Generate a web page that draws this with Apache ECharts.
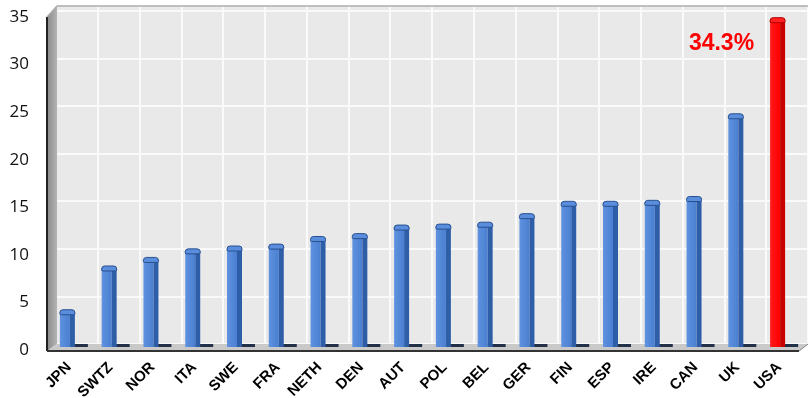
<!DOCTYPE html>
<html>
<head>
<meta charset="utf-8">
<script src="https://cdn.jsdelivr.net/npm/echarts@6/dist/echarts.min.js"></script>
<style>
  html, body { margin: 0; padding: 0; background: #ffffff; }
  #chart { width: 808px; height: 398px; }
</style>
</head>
<body>
<div id="chart"></div>
<script>
// Country codes along the bottom axis
const countries = ['JPN', 'SWTZ', 'NOR', 'ITA', 'SWE', 'FRA', 'NETH', 'DEN', 'AUT',
                   'POL', 'BEL', 'GER', 'FIN', 'ESP', 'IRE', 'CAN', 'UK', 'USA'];
// Percentage for each country
const rates = [3.6, 8.2, 9.1, 10.0, 10.3, 10.5, 11.3, 11.6, 12.5,
               12.6, 12.8, 13.7, 15.0, 15.0, 15.1, 15.5, 24.2, 34.3];
// Value axis ticks
const yTicks = [0, 5, 10, 15, 20, 25, 30, 35];
// Country drawn in red with its value written beside it
const highlighted = 'USA';

const yMin = yTicks[0];
const yMax = yTicks[yTicks.length - 1];
const yStep = yTicks[1] - yTicks[0];

const chart = echarts.init(document.getElementById('chart'), null, { renderer: 'canvas' });

function hGrad(c0, c1) {
  return new echarts.graphic.LinearGradient(0, 0, 1, 0, [
    { offset: 0, color: c0 }, { offset: 1, color: c1 }
  ]);
}

// Pseudo-3D column: front face, darker side, rounded cap and a floor shadow
function renderColumn(params, api) {
  const idx = api.value(0);
  const val = api.value(1);
  const topPt = api.coord([idx, val]);
  const basePt = api.coord([idx, 0]);
  const depth = 4;                 // columns stand a little behind the front edge
  const cx = topPt[0];
  const w = 15, side = 5;
  const x0 = cx - 9;
  const yT = topPt[1] - depth;
  const yB = basePt[1] - depth + 1;
  const hot = countries[idx] === highlighted;

  const frontFill = hot ? hGrad('#ff1a1a', '#ff0000') : hGrad('#5f93e0', '#4a7ed0');
  const sideFill = hot ? '#c80000' : '#2f5ea9';
  const capFill = hot ? '#ff2020' : '#5a8ddc';
  const capStroke = hot ? '#b00000' : '#28508f';

  const children = [
    { type: 'rect', shape: { x: x0 + w - 1, y: yB - 3, width: 14, height: 3 },
      style: { fill: '#223048' } },
    { type: 'rect', shape: { x: x0, y: yT, width: w - side, height: yB - yT },
      style: { fill: frontFill } },
    { type: 'rect', shape: { x: x0 + w - side, y: yT, width: side, height: yB - yT },
      style: { fill: sideFill } },
    { type: 'rect', shape: { x: x0, y: yT - 2, width: w, height: 5, r: [3, 3, 1, 1] },
      style: { fill: capFill, stroke: capStroke, lineWidth: 1 } }
  ];

  if (hot) {
    children.push({
      type: 'text',
      style: {
        x: x0 - 16, y: yT + 24,
        text: val.toFixed(1) + '%',
        fill: '#ff0000',
        font: 'bold 23px "Liberation Sans", Arial, sans-serif',
        align: 'right', verticalAlign: 'middle'
      }
    });
  }
  return { type: 'group', children: children };
}

const option = {
  backgroundColor: '#ffffff',
  animation: false,
  grid: [
    // front plane: scales for the columns and axis labels
    { left: 48, right: 8, top: 17, bottom: 48, outerBoundsMode: 'none', containLabel: false },
    // back wall, shifted up and right for depth
    { left: 56, right: 0, top: 6, bottom: 54, show: true, outerBoundsMode: 'none',
      backgroundColor: '#e9e9e9', borderWidth: 0 }
  ],
  xAxis: [
    {
      type: 'category', gridIndex: 0, data: countries, boundaryGap: true,
      axisLine: { show: false },
      axisTick: { show: true, inside: true, length: 5, interval: 0,
                  lineStyle: { color: '#333', width: 1 } },
      axisLabel: {
        interval: 0, rotate: 45, margin: 15,
        color: '#000', fontSize: 15, fontWeight: 'bold',
        fontFamily: '"Liberation Sans", Arial, sans-serif'
      },
      splitLine: { show: false }
    },
    {
      type: 'category', gridIndex: 1, data: countries, boundaryGap: true,
      axisLine: { show: false }, axisTick: { show: false }, axisLabel: { show: false },
      splitLine: { show: true, interval: 0, lineStyle: { color: '#fafafa', width: 2 } }
    }
  ],
  yAxis: [
    {
      type: 'value', gridIndex: 0, min: yMin, max: yMax, interval: yStep,
      axisLine: { show: false }, axisTick: { show: false },
      axisLabel: { margin: 19, color: '#111', fontSize: 17,
                   fontFamily: '"Open Sans", "Noto Sans", sans-serif' },
      splitLine: { show: false }
    },
    {
      type: 'value', gridIndex: 1, min: yMin, max: yMax + 0.5, interval: yStep,
      axisLine: { show: false }, axisTick: { show: false }, axisLabel: { show: false },
      splitLine: { show: true, lineStyle: { color: '#fafafa', width: 2 } }
    }
  ],
  graphic: [
    // left side wall
    { type: 'polygon', z: 1,
      shape: { points: [[47, 17], [57, 6], [57, 344], [47, 351]] },
      style: { fill: new echarts.graphic.LinearGradient(0, 0, 1, 0, [
        { offset: 0, color: '#8a8a8a' }, { offset: 1, color: '#b4b4b4' }]) } },
    { type: 'line', z: 1, shape: { x1: 47, y1: 17, x2: 47, y2: 351 },
      style: { stroke: '#222', lineWidth: 2 } },
    // floor
    { type: 'polygon', z: 1,
      shape: { points: [[47, 351], [57, 344], [808, 344], [799, 351]] },
      style: { fill: '#c9c9c9' } },
    { type: 'line', z: 1, shape: { x1: 47, y1: 351, x2: 799, y2: 351 },
      style: { stroke: '#333', lineWidth: 2 } },
    { type: 'line', z: 1, shape: { x1: 799, y1: 351, x2: 808, y2: 344 },
      style: { stroke: '#888', lineWidth: 1 } },
    // top edge of the back wall
    { type: 'line', z: 1, shape: { x1: 57, y1: 6, x2: 808, y2: 6 },
      style: { stroke: '#aaaaaa', lineWidth: 1.5 } },
    { type: 'line', z: 1, shape: { x1: 47, y1: 17, x2: 57, y2: 6 },
      style: { stroke: '#aaaaaa', lineWidth: 1.5 } }
  ],
  series: [
    {
      type: 'custom', xAxisIndex: 0, yAxisIndex: 0, z: 3,
      renderItem: renderColumn,
      data: rates.map((v, i) => [i, v])
    }
  ]
};

chart.setOption(option);
</script>
</body>
</html>
